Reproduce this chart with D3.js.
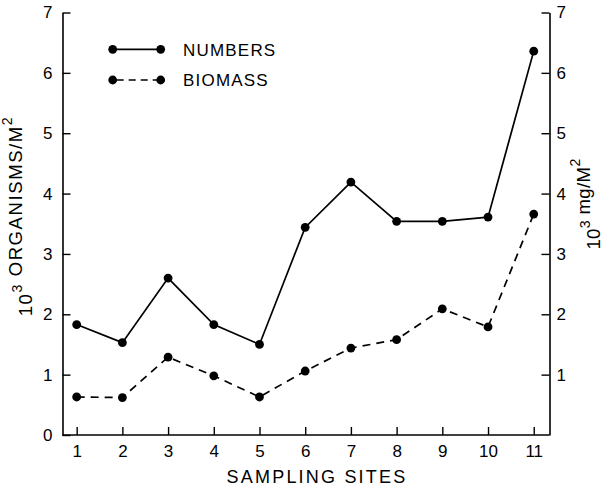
<!DOCTYPE html>
<html>
<head>
<meta charset="utf-8">
<script src="https://cdn.jsdelivr.net/npm/d3@7"></script>
<style>
  body { margin: 0; background: #fff; }
  text { font-family: "Liberation Sans", Arial, sans-serif; fill: #000; }
</style>
</head>
<body>
<svg id="chart" width="603" height="487"></svg>
<script>
// Sampling sites along the x axis
const sites = [1, 2, 3, 4, 5, 6, 7, 8, 9, 10, 11];
// Organisms per m² (thousands)
const numbers = [1.83, 1.53, 2.60, 1.83, 1.50, 3.44, 4.19, 3.54, 3.54, 3.61, 6.36];
// Biomass, mg per m² (thousands)
const biomass = [0.63, 0.62, 1.29, 0.98, 0.63, 1.06, 1.44, 1.58, 2.09, 1.79, 3.66];
const leftTicks = [0, 1, 2, 3, 4, 5, 6, 7];
const rightTicks = [1, 2, 3, 4, 5, 6, 7];
const seriesNames = ["NUMBERS", "BIOMASS"];

const svg = d3.select("#chart");
const plotLeft = 62.5, plotRight = 549.5, plotTop = 12.5, plotBottom = 435;

const x = d3.scaleLinear().domain([0.69, 11.345]).range([plotLeft, plotRight]);
const y = d3.scaleLinear().domain([0, 7]).range([plotBottom, plotTop]);

const styleAxis = g => {
  g.selectAll("path.domain").attr("stroke", "#000").attr("stroke-width", 1.6);
  g.selectAll(".tick line").attr("stroke", "#000").attr("stroke-width", 1.4);
  g.selectAll(".tick text").style("font-size", "17px").attr("fill", "#000");
};

// Left axis
svg.append("g")
  .attr("transform", `translate(${plotLeft},0)`)
  .call(d3.axisLeft(y).tickValues(leftTicks).tickFormat(d3.format("d"))
    .tickSize(-8).tickSizeOuter(0).tickPadding(10))
  .call(styleAxis);

// Right axis
svg.append("g")
  .attr("transform", `translate(${plotRight},0)`)
  .call(d3.axisRight(y).tickValues(rightTicks).tickFormat(d3.format("d"))
    .tickSize(-8).tickSizeOuter(0).tickPadding(7))
  .call(styleAxis);

// Bottom axis
svg.append("g")
  .attr("transform", `translate(0,${plotBottom})`)
  .call(d3.axisBottom(x).tickValues(sites).tickFormat(d3.format("d"))
    .tickSize(-8).tickSizeOuter(0).tickPadding(10))
  .call(g => g.select("path.domain").attr("d", `M${plotLeft},0H${plotRight}`))
  .call(styleAxis);

// Series lines and markers
const line = d3.line().x((d, i) => x(sites[i])).y(d => y(d));
const series = [
  { values: numbers, dash: null },
  { values: biomass, dash: "8,6" }
];
series.forEach(s => {
  svg.append("path")
    .datum(s.values)
    .attr("d", line)
    .attr("fill", "none")
    .attr("stroke", "#000")
    .attr("stroke-width", 1.7)
    .attr("stroke-dasharray", s.dash);
  svg.append("g").selectAll("circle")
    .data(s.values)
    .join("circle")
    .attr("cx", (d, i) => x(sites[i]))
    .attr("cy", d => y(d))
    .attr("r", 4.4)
    .attr("fill", "#000");
});

// Legend
const legendRows = [49.3, 80];
series.forEach((s, i) => {
  const ly = legendRows[i];
  const g = svg.append("g");
  g.append("line")
    .attr("x1", 112.7).attr("x2", 160.7).attr("y1", ly).attr("y2", ly)
    .attr("stroke", "#000").attr("stroke-width", 1.7)
    .attr("stroke-dasharray", s.dash ? "7,5" : null)
    .attr("stroke-dashoffset", s.dash ? -4 : null);
  [112.7, 160.7].forEach(cx => g.append("circle").attr("cx", cx).attr("cy", ly).attr("r", 4.4).attr("fill", "#000"));
  g.append("text")
    .attr("x", 183).attr("y", ly + 6.2)
    .style("font-size", "17px").style("letter-spacing", "1.2px")
    .text(seriesNames[i]);
});

// Axis titles
svg.append("text")
  .attr("x", 317).attr("y", 482.5)
  .attr("text-anchor", "middle")
  .style("font-size", "18px").style("letter-spacing", "2.2px")
  .text("SAMPLING SITES");

function titleWithSup(t, parts) {
  parts.forEach(p => {
    if (p.sup) {
      t.append("tspan").attr("dy", "-0.7em").style("font-size", "14px").text(p.text);
      t.append("tspan").attr("dy", "0.7em").text("");
    } else {
      t.append("tspan").text(p.text);
    }
  });
}

const leftTitle = svg.append("text")
  .attr("transform", "translate(31.5,216) rotate(-90)")
  .attr("text-anchor", "middle")
  .style("font-size", "18.5px").style("letter-spacing", "1.6px");
titleWithSup(leftTitle, [{ text: "10" }, { text: "3", sup: true }, { text: " ORGANISMS/M" }, { text: "2", sup: true }]);

const rightTitle = svg.append("text")
  .attr("transform", "translate(599.5,204) rotate(-90)")
  .attr("text-anchor", "middle")
  .style("font-size", "18.5px").style("letter-spacing", "0.4px");
titleWithSup(rightTitle, [{ text: "10" }, { text: "3", sup: true }, { text: " mg/M" }, { text: "2", sup: true }]);
</script>
</body>
</html>
